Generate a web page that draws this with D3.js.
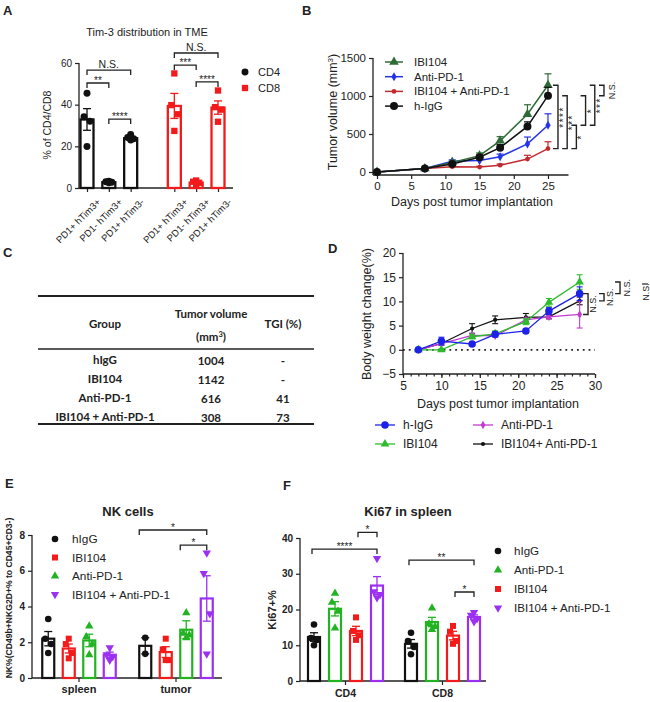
<!DOCTYPE html>
<html><head><meta charset="utf-8">
<script src="https://cdn.jsdelivr.net/npm/d3@7"></script>
<style>body{margin:0;background:#fff}svg{display:block;font-family:"Liberation Sans",Arial,sans-serif}</style>
</head><body><svg id="c" width="650" height="702"></svg>
<script>
// ---------------- Panel A data ----------------
const aCategories = ["PD1+ hTim3+", "PD1- hTim3+", "PD1+ hTim3-"];
const aSeries = ["CD4", "CD8"];
const aCD4Mean = [32.9, 2.8, 23.9];
const aCD4Sem = [5.2, 0.2, 0.6];
const aCD4Pts = [[45.5, 34.2, 32.0, 19.9], [3.2, 3.0, 2.8, 2.5], [25.7, 24.2, 23.6, 23.0]];
const aCD8Mean = [39.4, 2.6, 38.6];
const aCD8Sem = [6.0, 0.4, 3.2];
const aCD8Pts = [[55.0, 39.8, 35.4, 27.4], [3.6, 3.0, 2.5, 1.5], [46.8, 38.8, 37.6, 31.8]];
const aYTicks = [0, 20, 40, 60];
// [series, catA, catB, label, level]
const aSig = [["CD4", 0, 2, "N.S.", 56.6], ["CD4", 0, 1, "**", 50.4], ["CD4", 1, 2, "****", 33.1],
              ["CD8", 0, 2, "N.S.", 64.8], ["CD8", 0, 1, "***", 59.0], ["CD8", 1, 2, "****", 50.9]];

// ---------------- Panel B data ----------------
const bDays = [0, 7, 11, 15, 18, 22, 25];
const bGroups = ["IBI104", "Anti-PD-1", "IBI104 + Anti-PD-1", "h-IgG"];
const bIBI104 = [0, 45, 125, 215, 410, 760, 1142];
const bIBI104Err = [0, 8, 20, 35, 55, 125, 150];
const bAntiPD1 = [0, 45, 140, 150, 200, 370, 616];
const bAntiPD1Err = [0, 8, 20, 20, 35, 90, 150];
const bCombo = [0, 45, 70, 65, 90, 170, 308];
const bComboErr = [0, 8, 10, 10, 15, 50, 90];
const bIgG = [0, 45, 105, 195, 320, 600, 1004];
const bIgGErr = [0, 8, 20, 30, 40, 60, 110];
const bYTicks = [0, 500, 1000, 1500];
const bXTicks = [0, 5, 10, 15, 20, 25];
const bSig = [["IBI104", "IBI104 + Anti-PD-1", "****"], ["h-IgG", "IBI104 + Anti-PD-1", "***"],
              ["Anti-PD-1", "IBI104 + Anti-PD-1", "*"], ["h-IgG", "Anti-PD-1", "*"],
              ["IBI104", "Anti-PD-1", "***"], ["IBI104", "h-IgG", "N.S."]];

// ---------------- Panel C data ----------------
const cGroups = ["hIgG", "IBI104", "Anti-PD-1", "IBI104 + Anti-PD-1"];
const cVolumes = ["1004", "1142", "616", "308"];
const cTGI = ["-", "-", "41", "73"];

// ---------------- Panel D data ----------------
const dDays = [7, 10, 14, 17, 21, 24, 28];
const dGroups = ["h-IgG", "Anti-PD-1", "IBI104", "IBI104+ Anti-PD-1"];
const dIgG = [0, 1.8, 1.2, 3.2, 3.9, 8.0, 11.6];
const dIgGErr = [0, 0.8, 0.3, 0.5, 0.4, 0.7, 1.4];
const dAntiPD1 = [0, 1.3, 3.0, 2.9, 6.2, 6.8, 7.3];
const dAntiPD1Err = [0, 0.3, 0.4, 0.3, 0.4, 0.4, 2.8];
const dIBI104 = [0, 0, 2.7, 3.3, 5.8, 9.8, 14.0];
const dIBI104Err = [0, 0.2, 0.4, 0.6, 0.6, 0.8, 1.5];
const dCombo = [0, 1.3, 4.4, 6.2, 6.7, 6.8, 10.1];
const dComboErr = [0, 0.3, 1.0, 0.8, 0.8, 0.4, 0.8];
const dYTicks = [-5, 0, 5, 10, 15, 20];
const dXTicks = [5, 10, 15, 20, 25, 30];
const dSig = [["h-IgG", "Anti-PD-1", "N.S."], ["h-IgG", "IBI104+ Anti-PD-1", "N.S."], ["IBI104", "h-IgG", "N.S."]];

// ---------------- Panel E data ----------------
const eTissues = ["spleen", "tumor"];
const eGroups = ["hIgG", "IBI104", "Anti-PD-1", "IBI104 + Anti-PD-1"];
const eSpleenMean = [2.2, 1.65, 2.1, 1.3];
const eSpleenSem = [0.4, 0.25, 0.35, 0.15];
const eSpleenPts = [[3.3, 2.2, 1.9, 1.4], [2.2, 1.9, 1.4, 1.1], [2.9, 2.3, 1.9, 1.3], [1.7, 1.3, 1.2, 1.0]];
const eTumorMean = [1.8, 1.45, 2.7, 4.45];
const eTumorSem = [0.45, 0.3, 0.5, 1.27];
const eTumorPts = [[2.25, 1.35], [2.2, 1.6, 1.0, 1.0], [3.65, 2.5, 2.4, 2.25], [7.0, 5.85, 3.6, 1.35]];
const eYTicks = [0, 2, 4, 6, 8];
const eSig = [["tumor", "hIgG", "IBI104 + Anti-PD-1", "*", 8.28], ["tumor", "Anti-PD-1", "IBI104 + Anti-PD-1", "*", 7.43]];

// ---------------- Panel F data ----------------
const fCells = ["CD4", "CD8"];
const fGroups = ["hIgG", "Anti-PD-1", "IBI104", "IBI104 + Anti-PD-1"];
const fCD4Mean = [12.3, 20.2, 14.0, 26.7];
const fCD4Sem = [1.2, 2.0, 1.3, 2.5];
const fCD4Pts = [[15.8, 12.0, 11.5, 10.0], [24.5, 22.0, 19.5, 14.8], [17.8, 14.0, 12.8, 11.5], [34.3, 25.0, 24.2, 23.3]];
const fCD8Mean = [10.4, 16.5, 12.7, 17.9];
const fCD8Sem = [1.2, 1.3, 1.2, 0.6];
const fCD8Pts = [[13.5, 11.2, 9.5, 7.5], [20.4, 16.0, 15.2, 14.4], [15.4, 13.8, 11.2, 10.4], [19.2, 18.4, 17.4, 16.6]];
const fYTicks = [0, 10, 20, 30, 40];
const fSig = [["CD4", "hIgG", "IBI104 + Anti-PD-1", "****", 36.9], ["CD4", "IBI104", "IBI104 + Anti-PD-1", "*", 41.6],
              ["CD8", "hIgG", "IBI104 + Anti-PD-1", "**", 33.8], ["CD8", "IBI104", "IBI104 + Anti-PD-1", "*", 24.9]];

// ---------------- helpers ----------------
const INK = "#222";
const svg = d3.select("#c");
function label(g, x, y, s, o = {}) {
  const t = g.append("text").attr("x", x).attr("y", y).text(s)
    .attr("font-size", o.size || 11).attr("text-anchor", o.anchor || "middle").attr("fill", o.fill || INK);
  if (o.weight) t.attr("font-weight", o.weight);
  if (o.family) t.attr("font-family", o.family);
  if (o.dy) t.attr("dy", o.dy);
  if (o.ls) t.attr("letter-spacing", o.ls);
  if (o.rotate != null) t.attr("transform", `rotate(${o.rotate},${x},${y})`);
  return t;
}
function line(g, x1, y1, x2, y2, w = 1.2, c = INK) {
  return g.append("line").attr("x1", x1).attr("y1", y1).attr("x2", x2).attr("y2", y2)
    .attr("stroke", c).attr("stroke-width", w);
}
function styleAxis(sel, size, weight) {
  sel.select(".domain").remove();
  sel.selectAll(".tick line").attr("stroke", INK).attr("stroke-width", 1.2);
  sel.selectAll(".tick text").attr("font-size", size).attr("fill", INK)
    .attr("font-family", "Liberation Sans, Arial, sans-serif");
  if (weight) sel.selectAll(".tick text").attr("font-weight", weight);
}
function sym(g, type, size, x, y, color, rot = 0) {
  return g.append("path").attr("d", d3.symbol().type(type).size(size)())
    .attr("transform", `translate(${x},${y}) rotate(${rot})`).attr("fill", color);
}
function hBracket(g, x1, x2, y, text, size) {
  g.append("path").attr("d", `M${x1},${y + 5}V${y}H${x2}V${y + 5}`)
    .attr("fill", "none").attr("stroke", INK).attr("stroke-width", 1.3);
  const star = text.indexOf("*") >= 0;
  label(g, (x1 + x2) / 2, star ? y + 1 : y - 2.5, text, { size });
}
function vBracket(g, xTip, y1, y2, text, size, textX) {
  g.append("path").attr("d", `M${xTip},${y1}H${xTip + 5}V${y2}H${xTip}`)
    .attr("fill", "none").attr("stroke", INK).attr("stroke-width", 1.4);
  const star = text.indexOf("*") >= 0;
  const cx = textX, cy = (y1 + y2) / 2;
  const bx = cx + (star ? 0.55 : 0.36) * size;
  label(g, bx, cy, text, { size, rotate: -90, ls: star ? 1.5 : null });
}
const jitter4 = [0, -3, 3, 0];

// ================= Panel A =================
const gA = svg.append("g");
label(gA, 3, 15, "A", { size: 13, weight: "bold", anchor: "start" });
label(gA, 147, 36, "Tim-3 distribution in TME", { size: 11 });
const yA = d3.scaleLinear().domain([0, 60]).range([188, 63]);
const aSlots = [...aCategories.map(c => "CD4|" + c), "gap", ...aCategories.map(c => "CD8|" + c)];
const xA = d3.scalePoint().domain(aSlots).range([87, 218]);
const axAy = gA.append("g").attr("transform", "translate(79,0)").call(d3.axisLeft(yA).tickValues(aYTicks).tickSize(4));
styleAxis(axAy, 10);
line(gA, 79, yA(0), 79, yA(60), 1.3);
line(gA, 79, yA(0), 233, yA(0), 1.3);
const aTickSlots = aSlots.filter(s => s !== "gap");
const axAx = gA.append("g").attr("transform", `translate(0,${yA(0)})`)
  .call(d3.axisBottom(xA).tickValues(aTickSlots).tickSize(4).tickFormat(d => d.split("|")[1]));
styleAxis(axAx, 9.5);
axAx.selectAll(".tick text").attr("text-anchor", "end").attr("transform", "translate(4,5) rotate(-45)").attr("dy", "0.7em");
label(gA, 51, 125, "% of CD4/CD8", { size: 10.5, rotate: -90 });
const aColors = { CD4: "#111", CD8: "#f21a1a" };
aSeries.forEach(s => {
  const means = s === "CD4" ? aCD4Mean : aCD8Mean;
  const sems = s === "CD4" ? aCD4Sem : aCD8Sem;
  const pts = s === "CD4" ? aCD4Pts : aCD8Pts;
  const col = aColors[s];
  aCategories.forEach((c, i) => {
    const cx = xA(s + "|" + c);
    gA.append("rect").attr("x", cx - 6.5).attr("y", yA(means[i])).attr("width", 13)
      .attr("height", yA(0) - yA(means[i])).attr("fill", "#fff").attr("stroke", col).attr("stroke-width", 2.3);
    const e1 = yA(means[i] + sems[i]), e0 = yA(means[i] - sems[i]);
    line(gA, cx, e0, cx, e1, 1.3, col);
    line(gA, cx - 4, e1, cx + 4, e1, 1.3, col);
    line(gA, cx - 4, e0, cx + 4, e0, 1.3, col);
    pts[i].forEach((v, k) => {
      const px = cx + jitter4[k];
      if (s === "CD4") sym(gA, d3.symbolCircle, 38, px, yA(v), col);
      else sym(gA, d3.symbolSquare, 40, px, yA(v), col);
    });
  });
});
aSig.forEach(([s, i, j, t, lv]) => {
  hBracket(gA, xA(s + "|" + aCategories[i]), xA(s + "|" + aCategories[j]), yA(lv), t, t === "N.S." ? 10.5 : 10);
});
sym(gA, d3.symbolCircle, 38, 245, 72, aColors.CD4);
label(gA, 258, 72, "CD4", { size: 11, anchor: "start", dy: "0.35em" });
sym(gA, d3.symbolSquare, 40, 245, 88, aColors.CD8);
label(gA, 258, 88, "CD8", { size: 11, anchor: "start", dy: "0.35em" });

// ================= Panel B =================
const gB = svg.append("g");
label(gB, 302, 15, "B", { size: 13, weight: "bold", anchor: "start" });
const xB = d3.scaleLinear().domain([0, 28]).range([377, 568.5]);
const yB = d3.scaleLinear().domain([0, 1500]).range([172, 58]);
const axBy = gB.append("g").attr("transform", "translate(373,0)")
  .call(d3.axisLeft(yB).tickValues(bYTicks).tickSize(4).tickFormat(d3.format("d")));
styleAxis(axBy, 11.5);
line(gB, 373, yB(0) + 3, 373, yB(1500), 1.3);
const axBx = gB.append("g").attr("transform", `translate(0,${yB(0) + 3})`).call(d3.axisBottom(xB).tickValues(bXTicks).tickSize(4));
styleAxis(axBx, 11.5);
line(gB, 373, yB(0) + 3, xB(28), yB(0) + 3, 1.3);
label(gB, 472, 206, "Days post tumor implantation", { size: 12.5 });
const byl = label(gB, 337, 112, "", { size: 12.5, rotate: -90 });
byl.append("tspan").text("Tumor volume (mm");
byl.append("tspan").text("3").attr("font-size", 8).attr("baseline-shift", "super");
byl.append("tspan").text(")");
const bData = { "IBI104": [bIBI104, bIBI104Err], "Anti-PD-1": [bAntiPD1, bAntiPD1Err], "IBI104 + Anti-PD-1": [bCombo, bComboErr], "h-IgG": [bIgG, bIgGErr] };
const bColors = { "IBI104": "#2e6b35", "Anti-PD-1": "#2535e6", "IBI104 + Anti-PD-1": "#bf2a2e", "h-IgG": "#111" };
const bSym = { "IBI104": [d3.symbolTriangle, 40], "Anti-PD-1": [d3.symbolDiamond, 24], "IBI104 + Anti-PD-1": [d3.symbolCircle, 18], "h-IgG": [d3.symbolCircle, 50] };
const drawOrder = ["IBI104 + Anti-PD-1", "Anti-PD-1", "IBI104", "h-IgG"];
drawOrder.forEach(gname => {
  const [vals, errs] = bData[gname];
  const col = bColors[gname];
  vals.forEach((v, i) => {
    if (errs[i] > 0) {
      const x = xB(bDays[i]);
      line(gB, x, yB(v), x, yB(v + errs[i]), 1.2, col);
      line(gB, x - 3.5, yB(v + errs[i]), x + 3.5, yB(v + errs[i]), 1.2, col);
    }
  });
  gB.append("path").datum(vals).attr("fill", "none").attr("stroke", col).attr("stroke-width", 1.5)
    .attr("d", d3.line().x((d, i) => xB(bDays[i])).y(d => yB(d)));
  vals.forEach((v, i) => sym(gB, bSym[gname][0], bSym[gname][1], xB(bDays[i]), yB(v), col));
});
bGroups.forEach((gname, i) => {
  const y = 62 + i * 14.7;
  line(gB, 385, y, 403, y, 1.5, bColors[gname]);
  sym(gB, bSym[gname][0], bSym[gname][1], 394, y, bColors[gname]);
  label(gB, 414, y, gname, { size: 11.5, anchor: "start", dy: "0.35em" });
});
const bFinal = g => { const v = bData[g][0]; return v[v.length - 1]; };
bSig.forEach(([g1, g2, t], i) => {
  const tip = xB(25) + 5 + i * 9.2;
  const y1 = yB(bFinal(g1)), y2 = yB(bFinal(g2));
  vBracket(gB, tip, Math.min(y1, y2), Math.max(y1, y2), t, t === "N.S." ? 9 : 10, tip + (t === "N.S." ? 13 : 8.5));
});

// ================= Panel C (table) =================
const gC = svg.append("g").attr("font-family", "Lato, 'Liberation Sans', sans-serif");
label(gC, 3, 257, "C", { size: 13, weight: "bold", anchor: "start", family: "Liberation Sans, Arial, sans-serif" });
const cColX = [105, 211, 283];
line(gC, 38, 296, 314, 296, 2);
line(gC, 38, 349, 314, 349, 1.5);
line(gC, 38, 424, 314, 424, 2);
label(gC, cColX[0], 328, "Group", { size: 11.5, weight: "bold" });
label(gC, cColX[1], 318, "Tumor volume", { size: 11.5, weight: "bold" });
const mm = label(gC, cColX[1], 341, "", { size: 11.5, weight: "bold" });
mm.append("tspan").text("(mm");
mm.append("tspan").text("3").attr("font-size", 7.5).attr("baseline-shift", "super");
mm.append("tspan").text(")");
label(gC, cColX[2], 328, "TGI (%)", { size: 11.5, weight: "bold" });
cGroups.forEach((g, i) => {
  const y = 364 + i * 19;
  label(gC, cColX[0], y, g, { size: 11.5, weight: "bold" });
  label(gC, cColX[1], y + 1, cVolumes[i], { size: 11.5, weight: "bold" });
  label(gC, cColX[2], y + 1, cTGI[i], { size: 11.5, weight: "bold" });
});

// ================= Panel D =================
const gD = svg.append("g");
label(gD, 328, 253, "D", { size: 13, weight: "bold", anchor: "start" });
const xD = d3.scaleLinear().domain([5, 30]).range([403, 595]);
const yD = d3.scaleLinear().domain([-5, 20]).range([374, 253]);
const axDy = gD.append("g").attr("transform", "translate(403,0)").call(d3.axisLeft(yD).tickValues(dYTicks).tickSize(4));
styleAxis(axDy, 12);
line(gD, 403, yD(-5), 403, yD(20), 1.3);
const axDx = gD.append("g").attr("transform", `translate(0,${yD(-5)})`).call(d3.axisBottom(xD).tickValues(dXTicks).tickSize(4));
styleAxis(axDx, 12);
gD.append("g").attr("transform", `translate(0,${yD(-5)})`)
  .call(d3.axisBottom(xD).tickValues(d3.range(5, 31, 1)).tickSize(2.5).tickFormat("")).call(s => styleAxis(s, 1));
line(gD, 403, yD(-5), 595, yD(-5), 1.3);
line(gD, xD(5), yD(0), xD(30), yD(0), 1.8).attr("stroke-dasharray", "1.8,4");
label(gD, 498, 408, "Days post tumor implantation", { size: 12.5 });
label(gD, 371, 314, "Body weight change(%)", { size: 12.5, rotate: -90 });
const dData = { "h-IgG": [dIgG, dIgGErr], "Anti-PD-1": [dAntiPD1, dAntiPD1Err], "IBI104": [dIBI104, dIBI104Err], "IBI104+ Anti-PD-1": [dCombo, dComboErr] };
const dColors = { "h-IgG": "#1d22e8", "Anti-PD-1": "#c43acf", "IBI104": "#2dbb2d", "IBI104+ Anti-PD-1": "#111" };
const dSym = { "h-IgG": [d3.symbolCircle, 45], "Anti-PD-1": [d3.symbolDiamond, 20], "IBI104": [d3.symbolTriangle, 32], "IBI104+ Anti-PD-1": [d3.symbolCircle, 14] };
["IBI104+ Anti-PD-1", "Anti-PD-1", "IBI104", "h-IgG"].forEach(gname => {
  const [vals, errs] = dData[gname];
  const col = dColors[gname];
  vals.forEach((v, i) => {
    if (errs[i] > 0) {
      const x = xD(dDays[i]);
      line(gD, x, yD(v - errs[i]), x, yD(v + errs[i]), 1.1, col);
      line(gD, x - 3, yD(v + errs[i]), x + 3, yD(v + errs[i]), 1.1, col);
      line(gD, x - 3, yD(v - errs[i]), x + 3, yD(v - errs[i]), 1.1, col);
    }
  });
  gD.append("path").datum(vals).attr("fill", "none").attr("stroke", col).attr("stroke-width", 1.3)
    .attr("d", d3.line().x((d, i) => xD(dDays[i])).y(d => yD(d)));
  vals.forEach((v, i) => sym(gD, dSym[gname][0], dSym[gname][1], xD(dDays[i]), yD(v), col));
});
const dFinal = g => { const v = dData[g][0]; return v[v.length - 1]; };
dSig.forEach(([g1, g2, t], i) => {
  const tip = xD(28) + 3.4 + i * 16;
  const y1 = yD(dFinal(g1)), y2 = yD(dFinal(g2));
  vBracket(gD, tip, Math.min(y1, y2), Math.max(y1, y2), t, 9, tip + 10 + i);
});
line(gD, 642, 284, 648, 284, 1.2);
label(gD, 648.5, 292, "N.S.", { size: 9, rotate: -90 });
// legend D
dGroups.forEach((gname, i) => {
  const col = i % 2, row = Math.floor(i / 2);
  const x0 = col === 0 ? 375 : 473, y = 425 + row * 19;
  line(gD, x0, y, x0 + 20, y, 1.3, dColors[gname]);
  sym(gD, dSym[gname][0], dSym[gname][1], x0 + 10, y, dColors[gname]);
  label(gD, x0 + 28, y, gname, { size: 12, anchor: "start", dy: "0.35em" });
});

// ================= Bar panels E & F =================
function barPanel(g, cfg) {
  const y = cfg.y;
  cfg.cats.forEach((cat, ci) => {
    cfg.groups.forEach((grp, gi) => {
      const cx = cfg.xc(cat) + cfg.xin(grp);
      const m = cfg.means[ci][gi], se = cfg.sems[ci][gi], pts = cfg.pts[ci][gi];
      const col = cfg.colors[grp];
      g.append("rect").attr("x", cx - 6).attr("y", y(m)).attr("width", 12).attr("height", y(0) - y(m))
        .attr("fill", "#fff").attr("stroke", col).attr("stroke-width", 2.2);
      line(g, cx, y(m - se), cx, y(m + se), 1.3, col);
      line(g, cx - 4, y(m + se), cx + 4, y(m + se), 1.3, col);
      line(g, cx - 4, y(m - se), cx + 4, y(m - se), 1.3, col);
      pts.forEach((v, k) => {
        const px = cx + (pts.length === 4 ? jitter4[k] : 0);
        const [t, sz, rot] = cfg.sym[grp];
        sym(g, t, sz, px, y(v), col, rot);
      });
    });
  });
}
const eColors = { "hIgG": "#111", "IBI104": "#f21a1a", "Anti-PD-1": "#22b322", "IBI104 + Anti-PD-1": "#9b30f2" };
const eSymMap = { "hIgG": [d3.symbolCircle, 34, 0], "IBI104": [d3.symbolSquare, 36, 0], "Anti-PD-1": [d3.symbolTriangle, 30, 0], "IBI104 + Anti-PD-1": [d3.symbolTriangle, 30, 180] };

// ---- E
const gE = svg.append("g");
label(gE, 5, 488, "E", { size: 13, weight: "bold", anchor: "start" });
label(gE, 128, 516, "NK cells", { size: 13, weight: "bold" });
const yE = d3.scaleLinear().domain([0, 8]).range([678, 535]);
const xE = d3.scaleBand().domain(eTissues).range([30.5, 224.5]);
const xEc = t => xE(t) + xE.bandwidth() / 2;
const xEin = d3.scalePoint().domain(eGroups).range([-30.75, 30.75]);
const axEy = gE.append("g").attr("transform", "translate(32,0)").call(d3.axisLeft(yE).tickValues(eYTicks).tickSize(4));
styleAxis(axEy, 10, "bold");
line(gE, 32, yE(0), 32, yE(8), 1.3);
line(gE, 32, yE(0), 222, yE(0), 1.3);
eTissues.forEach(t => {
  line(gE, xEc(t), yE(0), xEc(t), yE(0) + 4, 1.2);
  label(gE, xEc(t), 693, t, { size: 11, weight: "bold" });
});
label(gE, 12, 598, "NK%(CD49b+NKG2D+% to CD45+CD3-)", { size: 8.6, weight: "bold", rotate: -90 });
barPanel(gE, { y: yE, cats: eTissues, groups: eGroups, xc: xEc, xin: xEin, colors: eColors, sym: eSymMap,
  means: [eSpleenMean, eTumorMean], sems: [eSpleenSem, eTumorSem], pts: [eSpleenPts, eTumorPts] });
eSig.forEach(([t, g1, g2, s, lv]) => hBracket(gE, xEc(t) + xEin(g1) - 6, xEc(t) + xEin(g2), yE(lv), s, 10));
eGroups.forEach((gname, i) => {
  const y = 539 + i * 18.5;
  const [t, sz, rot] = eSymMap[gname];
  sym(gE, t, sz, 55, y, eColors[gname], rot);
  label(gE, 72, y, gname, { size: 11.8, anchor: "start", dy: "0.35em" });
});

// ---- F
const gF = svg.append("g");
label(gF, 283, 490, "F", { size: 13, weight: "bold", anchor: "start" });
label(gF, 408, 516, "Ki67 in spleen", { size: 13, weight: "bold" });
const yF = d3.scaleLinear().domain([0, 40]).range([681, 538]);
const xF = d3.scaleBand().domain(fCells).range([297, 491]);
const xFc = c => xF(c) + xF.bandwidth() / 2;
const xFin = d3.scalePoint().domain(fGroups).range([-31.5, 31.5]);
const axFy = gF.append("g").attr("transform", "translate(300,0)").call(d3.axisLeft(yF).tickValues(fYTicks).tickSize(4));
styleAxis(axFy, 10, "bold");
line(gF, 300, yF(0), 300, yF(40), 1.3);
line(gF, 300, yF(0), 486, yF(0), 1.3);
fCells.forEach(c => {
  line(gF, xFc(c), yF(0), xFc(c), yF(0) + 4, 1.2);
  label(gF, xFc(c), 697, c, { size: 10.5, weight: "bold" });
});
label(gF, 276, 610, "Ki67+%", { size: 11, weight: "bold", rotate: -90 });
barPanel(gF, { y: yF, cats: fCells, groups: fGroups, xc: xFc, xin: xFin, colors: eColors, sym: eSymMap,
  means: [fCD4Mean, fCD8Mean], sems: [fCD4Sem, fCD8Sem], pts: [fCD4Pts, fCD8Pts] });
fSig.forEach(([c, g1, g2, s, lv]) => hBracket(gF, xFc(c) + xFin(g1) + (g1 === "hIgG" ? -2 : 2), xFc(c) + xFin(g2), yF(lv), s, 10));
fGroups.forEach((gname, i) => {
  const y = 551 + i * 19;
  const [t, sz, rot] = eSymMap[gname];
  sym(gF, t, sz, 498, y, eColors[gname], rot);
  label(gF, 514, y, gname, { size: 11.6, anchor: "start", dy: "0.35em" });
});
</script></body></html>
